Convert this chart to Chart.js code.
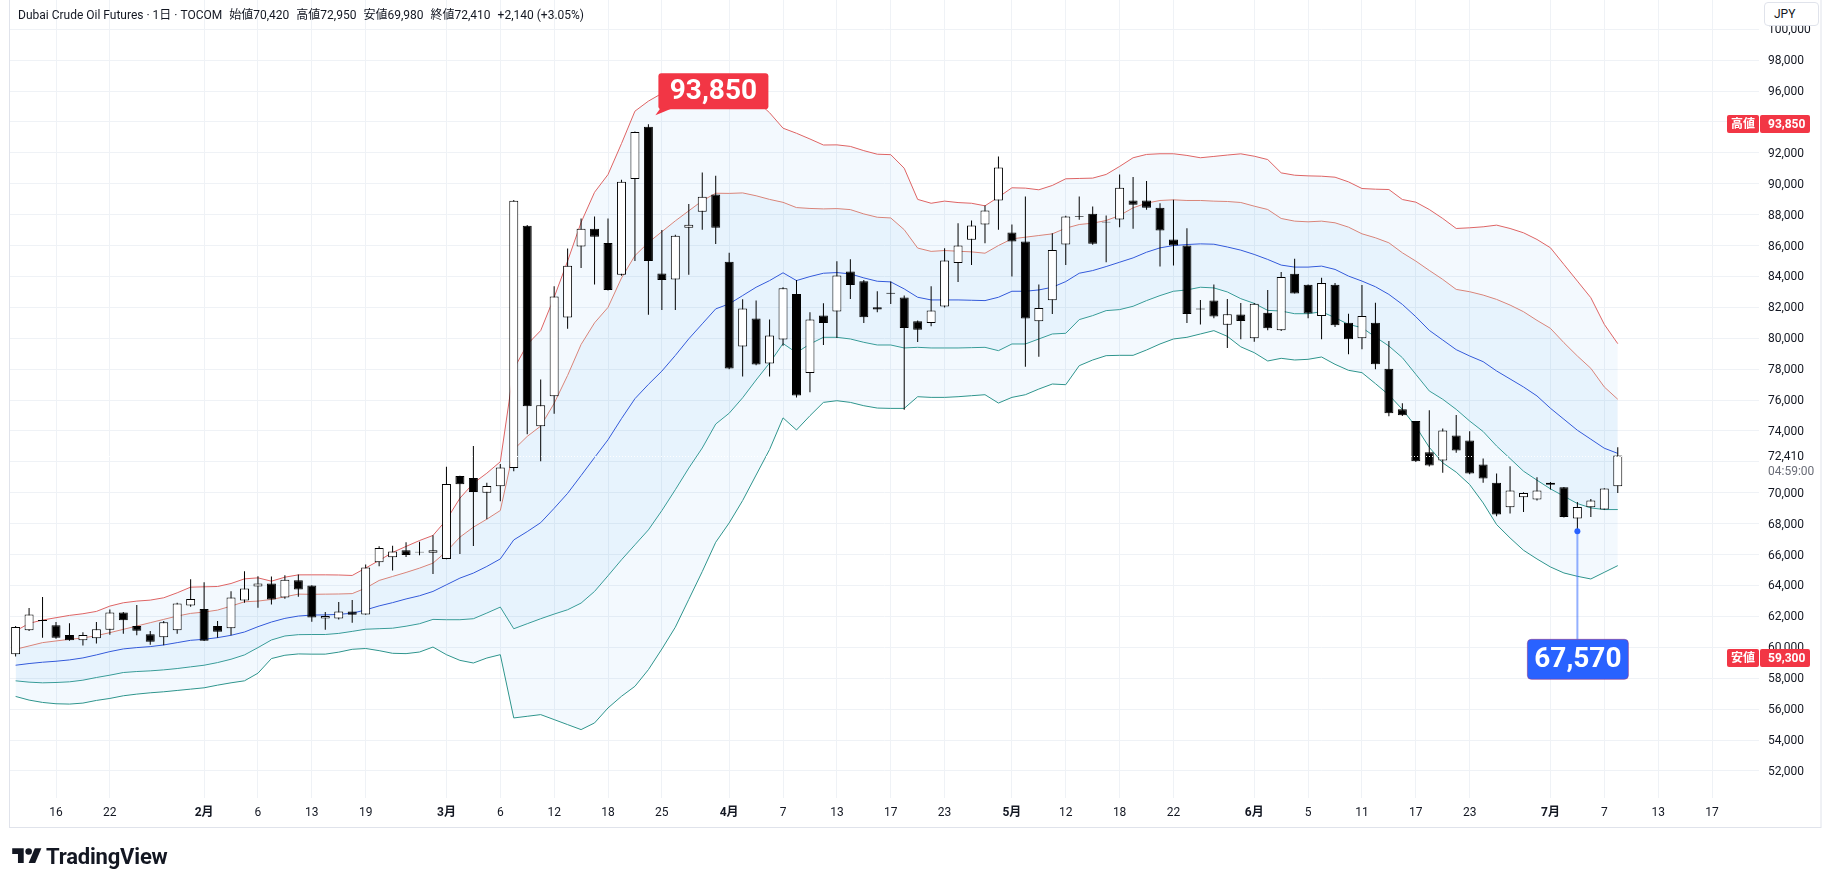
<!DOCTYPE html>
<html>
<head>
<meta charset="utf-8">
<title>Dubai Crude Oil Futures · 1日 · TOCOM</title>
<script src="https://cdn.jsdelivr.net/npm/chart.js@4.4.1/dist/chart.umd.min.js"></script>
<style>
  html, body { margin: 0; padding: 0; background: #fff; }
  body { width: 1827px; height: 887px; position: relative; overflow: hidden;
         font-family: Roboto, "Noto Sans CJK JP", sans-serif; color: #131722; }
  #wrap { position: absolute; left: 0; top: 0; width: 1827px; height: 887px; }
  #title { position: absolute; left: 18px; top: 5px; font-size: 12px; white-space: nowrap; }
  #title span { margin-left: 7px; }
  #jpy { position: absolute; left: 1764px; top: 2px; width: 55px; height: 24px; box-sizing: border-box;
         border: 1px solid #e0e3eb; border-radius: 4px; background: #fff; font-size: 12px;
         line-height: 22px; padding-left: 9px; }
  #logo { position: absolute; left: 12px; top: 844px; height: 24px; display: flex; align-items: center; }
  #logo span { font-size: 22px; font-weight: bold; margin-left: 4px; letter-spacing: -0.2px; }
</style>
</head>
<body>
<div id="wrap"><canvas id="chart"></canvas></div>
<div id="title">Dubai Crude Oil Futures · 1日 · TOCOM<span>始値70,420</span><span>高値72,950</span><span>安値69,980</span><span>終値72,410</span><span>+2,140 (+3.05%)</span></div>
<div id="jpy">JPY</div>
<div id="logo">
  <svg width="30" height="23" viewBox="0 0 36 28"><path d="M14 22H7V11H0V4h14v18z" fill="#131722"/><circle cx="20" cy="8" r="4" fill="#131722"/><path d="M28 22h-8l7.5-18h8L28 22z" fill="#131722"/></svg>
  <span>TradingView</span>
</div>
<script>
// first bar is 3 sessions before the "16" tick (index 0)
const firstIdx = -3;

const open = [
  59549, 61097, 61760, 61420, 60797, 60453, 60582, 61140, 62259, 61377,
  60840, 60646, 61097, 62710, 62474, 61377, 61226, 63033, 63936, 64129,
  63226, 64344, 64000, 61872, 61872, 62323, 62130, 65505, 65828, 66279,
  66190, 66116, 65720, 71084, 70955, 70008, 70428, 71612, 87286, 74304,
  76241, 81344, 85935, 87095, 86167, 84121, 90310, 93700, 84186, 83798,
  87157, 88192, 89310, 84961, 79471, 81279, 78373, 79918, 82860, 77753,
  81468, 81727, 84319, 83693, 82008, 82950, 82634, 81101, 80993, 82051,
  84881, 86371, 87365, 88920, 86846, 86263, 81101, 82462, 86069, 87920,
  88056, 87550, 87689, 88920, 88920, 88445, 86393, 86004, 81930, 82440,
  80870, 81548, 79997, 81656, 80514, 84177, 83466, 81441, 83466, 81009,
  79997, 81009, 78036, 75400, 74650, 72630, 72090, 73710, 73386, 71831,
  70643, 69066, 69714, 69563, 70643, 70362, 68332, 69066, 68915, 70420
];
const high = [
  61377, 62538, 63248, 61635, 61549, 60969, 61635, 62452, 62280, 62732,
  61055, 61700, 62882, 64409, 64215, 61700, 63634, 64925, 64602, 64580,
  64667, 64710, 64022, 62280, 62925, 63054, 65355, 66537, 66580, 66795,
  66827, 67258, 71690, 71100, 73034, 70650, 71870, 88944, 87330, 77339,
  83368, 85810, 87750, 87889, 87760, 90257, 93380, 93850, 87006, 86705,
  88700, 90731, 90516, 85542, 82528, 82442, 81215, 83303, 83779, 81684,
  82267, 84989, 85118, 83779, 83045, 83671, 82764, 81144, 83369, 85831,
  87451, 87624, 88596, 91771, 87365, 89179, 83477, 86803, 87926, 89179,
  88531, 87948, 90605, 90432, 90173, 88747, 88963, 87127, 82483, 83477,
  82540, 82281, 82281, 83121, 84285, 85147, 83480, 83919, 83574, 81591,
  83445, 82302, 79824, 75800, 74650, 75350, 74164, 75028, 73991, 72220,
  71248, 71723, 70038, 71010, 70700, 70380, 69412, 69606, 70300, 72950
];
const low = [
  59399, 61055, 60625, 60560, 60431, 60109, 60238, 60818, 60883, 60775,
  60173, 60130, 60883, 62624, 60400, 60625, 60775, 62882, 62560, 62775,
  63140, 63269, 61657, 61140, 61807, 61592, 62108, 65247, 64968, 65849,
  65965, 64737, 65700, 66040, 66560, 68295, 69460, 71397, 73787, 72043,
  75122, 80612, 84552, 83476, 83088, 84050, 85004, 81516, 81839, 81839,
  84121, 87020, 86106, 78000, 77533, 78250, 77533, 79514, 76176, 76500,
  79567, 80021, 82548, 80993, 81684, 82224, 75377, 79762, 80777, 82000,
  83650, 84751, 86155, 87019, 83995, 78163, 78811, 81576, 84751, 87667,
  86050, 84924, 87192, 87084, 88315, 84643, 84708, 80993, 80885, 81295,
  79380, 79932, 79781, 80514, 80471, 82900, 81290, 79932, 80729, 78962,
  79285, 77993, 74950, 74976, 72000, 71700, 71291, 72587, 71200, 70643,
  68483, 68656, 68764, 69500, 70211, 68400, 67570, 68440, 68900, 69980
];
const close = [
  61313, 62130, 61700, 60625, 60453, 60797, 61162, 62259, 61743, 61076,
  60367, 61614, 62839, 63119, 60431, 61012, 63226, 63807, 64129, 63097,
  64366, 63742, 61936, 62022, 62323, 62108, 65161, 66430, 66193, 65978,
  66130, 66288, 70570, 70557, 70050, 70438, 71640, 88901, 75595, 75660,
  82700, 84703, 87095, 86576, 83131, 90128, 93355, 85004, 83777, 86645,
  87351, 89161, 87150, 78050, 81925, 78308, 80181, 83240, 76290, 81209,
  80993, 84060, 83455, 81360, 81857, 82880, 80669, 80561, 81792, 85032,
  86004, 87300, 88272, 91058, 86263, 81274, 81965, 85723, 87883, 87860,
  86112, 87490, 89741, 88639, 88445, 86976, 86004, 81576, 81870, 81403,
  81560, 81117, 82238, 80643, 83962, 82906, 81613, 83574, 80837, 79932,
  81441, 78316, 75150, 75020, 72035, 71765, 74034, 72738, 71248, 70924,
  68591, 70146, 69995, 70146, 70514, 68440, 69088, 69498, 70276, 72410
];

// band lines
const upper2 = [
  61055, 61549, 61764, 61915, 62065, 62173, 62323, 62667, 62882, 62990,
  63054, 63205, 63527, 63893, 63914, 63936, 64129, 64430, 64495, 64280,
  64538, 64688, 64690, 64690, 64680, 64650, 65130, 65620, 66140, 66530,
  66910, 67240, 68250, 69650, 70620, 71270, 72010, 78000, 79600, 80500,
  82650, 85000, 87500, 89450, 90600, 92600, 94700, 95350, 95850, 96300,
  96600, 96800, 96800, 96400, 96000, 95400, 94600, 93600, 93270, 92900,
  92510, 92520, 92420, 92145, 91915, 91885, 91010, 88990, 88740, 88880,
  88785, 88740, 88574, 89136, 89741, 89719, 89611, 89892, 90324, 90346,
  90367, 90605, 91123, 91685, 91901, 91944, 91944, 91836, 91685, 91771,
  91860, 91940, 91784, 91569, 90707, 90556, 90513, 90492, 90427, 90125,
  89694, 89651, 89630, 88983, 88811, 88337, 87755, 87108, 87151, 87216,
  87324, 87108, 86828, 86397, 85859, 84781, 83703, 82626, 80902, 79652
];
const upper1 = [
  59872, 60087, 60302, 60410, 60517, 60603, 60754, 60947, 61162, 61377,
  61592, 61807, 62022, 62194, 62280, 62409, 62667, 62946, 62990, 63097,
  63269, 63441, 63430, 63440, 63450, 63475, 63832, 64327, 64586, 64845,
  65125, 65448, 66202, 67129, 67775, 68293, 68853, 72800, 73650, 74320,
  75790, 77600, 79600, 81000, 82000, 83900, 85350, 86200, 86900, 87600,
  88250, 88900, 89390, 89378, 89410, 89225, 88990, 88800, 88460, 88405,
  88375, 88395, 88330, 88050, 87835, 87790, 87030, 85840, 85625, 85680,
  85637, 85594, 85507, 86004, 86436, 86544, 86652, 86760, 87127, 87365,
  87451, 87624, 87948, 88445, 88747, 88920, 88963, 88920, 88920, 88877,
  88855, 88790, 88552, 88337, 87755, 87583, 87539, 87583, 87475, 87194,
  86763, 86505, 86181, 85535, 84996, 84393, 83811, 83165, 83014, 82798,
  82518, 82152, 81721, 81160, 80643, 79716, 78854, 78057, 76850, 76053
];
const basis = [
  58840, 58948, 59034, 59098, 59184, 59313, 59507, 59722, 59894, 59980,
  60044, 60152, 60302, 60453, 60517, 60625, 60775, 60990, 61334, 61635,
  61872, 62022, 62087, 62097, 62130, 62205, 62420, 62680, 62890, 63130,
  63336, 63616, 64047, 64478, 64802, 65233, 65720, 66950, 67487, 68068,
  68995, 69965, 71117, 72280, 73433, 74799, 76091, 77016, 77878, 78890,
  79966, 80935, 81904, 82227, 82765, 83303, 83734, 84240, 83736, 83995,
  84211, 84254, 84168, 83909, 83693, 83650, 83196, 82656, 82483, 82483,
  82483, 82462, 82440, 82656, 83045, 83045, 83131, 83304, 83671, 84211,
  84384, 84643, 84924, 85205, 85572, 85853, 86004, 86069, 86112, 86090,
  85910, 85705, 85427, 85104, 84738, 84608, 84608, 84673, 84458, 84027,
  83703, 83337, 82841, 82195, 81397, 80514, 79889, 79264, 78855, 78488,
  77885, 77368, 76850, 76268, 75471, 74760, 74049, 73467, 72885, 72550
];
const lower1 = [
  57830, 57744, 57701, 57722, 57765, 57873, 58045, 58195, 58367, 58432,
  58475, 58539, 58625, 58733, 58840, 59012, 59227, 59507, 59979, 60474,
  60732, 60818, 60828, 60828, 60900, 61030, 61170, 61204, 61236, 61365,
  61526, 61806, 61785, 61785, 61849, 62216, 62603, 61200, 61526, 61849,
  62151, 62431, 62862, 63616, 64629, 65663, 66633, 67600, 68850, 70200,
  71600, 72900, 74450, 75150, 76150, 77300, 78400, 79660, 79070, 79632,
  80064, 80064, 79956, 79740, 79567, 79567, 79373, 79416, 79373, 79373,
  79373, 79394, 79416, 79200, 79632, 79632, 79956, 80280, 80323, 81209,
  81468, 81792, 81857, 82073, 82440, 82764, 83045, 83131, 83304, 83261,
  83000, 82565, 82259, 81807, 81764, 81591, 81591, 81721, 81333, 80902,
  80687, 80083, 79501, 78747, 77669, 76592, 76053, 75400, 74645, 73966,
  73027, 72218, 71399, 70816, 70254, 69779, 69304, 69023, 68915, 68915
];
const lower2 = [
  56819, 56583, 56432, 56346, 56325, 56389, 56561, 56690, 56862, 56970,
  57055, 57120, 57206, 57292, 57378, 57550, 57701, 57830, 58324, 59270,
  59485, 59571, 59557, 59557, 59686, 59870, 59923, 59783, 59611, 59590,
  59694, 60017, 59522, 59155, 58983, 59306, 59522, 55427, 55535, 55643,
  55320, 54996, 54673, 55104, 56074, 56828, 57475, 58552, 59888, 61300,
  63100, 64900, 66800, 68050, 69500, 71150, 72800, 74850, 74065, 74988,
  75852, 75960, 75852, 75636, 75485, 75463, 75463, 76219, 76176, 76176,
  76219, 76284, 76349, 75809, 76176, 76349, 76716, 77040, 76997, 78228,
  78595, 78876, 78898, 78898, 79243, 79632, 79956, 80064, 80280, 80496,
  80128, 79448, 79070, 78531, 78704, 78596, 78639, 78790, 78316, 77928,
  77777, 77066, 76333, 75400, 74290, 72940, 71939, 71334, 70535, 69347,
  67943, 67079, 66280, 65718, 65200, 64811, 64595, 64422, 64854, 65286
];

// date axis: bar index -> label
const tickPos  = [0, 4, 11, 15, 19, 23, 29, 33, 37, 41, 45, 50, 54, 58, 62, 66, 71, 75, 79, 83, 89, 93, 97, 101, 105, 111, 115, 119, 123];
const tickText = ['16', '22', '2月', '6', '13', '19', '3月', '6', '12', '18', '25', '4月', '7', '13', '17', '23', '5月', '12', '18', '22', '6月', '5', '11', '17', '23', '7月', '7', '13', '17'];
const priceTicks = [];
for (let v = 52000; v <= 100000; v += 2000) priceTicks.push(v);

const highMark = { idx: 44, value: 93850 };
const lowMark = { idx: 113, value: 67570 };
const rangeHigh = 93850, rangeLow = 59300;
const lastPrice = 72410;

const xs = open.map((_, k) => k + firstIdx);
const pts = arr => arr.map((v, k) => ({ x: xs[k], y: v }));
const isUp = k => close[k] >= open[k];

const fmt = v => v.toLocaleString('en-US');
const FONT = 'Roboto, "Noto Sans CJK JP", sans-serif';

function roundRect(ctx, x, y, w, h, r) {
  ctx.beginPath();
  ctx.moveTo(x + r, y);
  ctx.arcTo(x + w, y, x + w, y + h, r);
  ctx.arcTo(x + w, y + h, x, y + h, r);
  ctx.arcTo(x, y + h, x, y, r);
  ctx.arcTo(x, y, x + w, y, r);
  ctx.closePath();
}

const marks = {
  id: 'marks',
  afterDatasetsDraw(chart) {
    const { ctx, chartArea: a, scales: { x, y } } = chart;
    ctx.save();

    // last price dotted line
    const ly = Math.round(y.getPixelForValue(lastPrice)) + 0.5;
    ctx.strokeStyle = 'rgba(255,255,255,0.95)';
    ctx.lineWidth = 1;
    ctx.setLineDash([1, 2]);
    ctx.beginPath(); ctx.moveTo(a.left, ly); ctx.lineTo(a.right, ly); ctx.stroke();
    ctx.setLineDash([]);

    // high callout
    const hx = x.getPixelForValue(highMark.idx), hy = y.getPixelForValue(highMark.value);
    const bx = hx + 10, by = hy - 51, bw = 110, bh = 36;
    ctx.fillStyle = '#f23645';
    roundRect(ctx, bx, by, bw, bh, 3); ctx.fill();
    ctx.beginPath(); ctx.moveTo(bx + 2, by + bh - 1); ctx.lineTo(bx + 14, by + bh - 1); ctx.lineTo(hx + 7, hy - 9); ctx.closePath(); ctx.fill();
    ctx.fillStyle = '#fff';
    ctx.font = 'bold 28px ' + FONT;
    ctx.textAlign = 'center'; ctx.textBaseline = 'middle';
    ctx.fillText(fmt(highMark.value), bx + bw / 2, by + bh / 2 + 1);

    // low callout
    const qx = x.getPixelForValue(lowMark.idx), qy = y.getPixelForValue(lowMark.value);
    const top = qy + 109;
    ctx.strokeStyle = 'rgba(41,98,255,0.5)';
    ctx.lineWidth = 2;
    ctx.beginPath(); ctx.moveTo(qx, qy + 1); ctx.lineTo(qx, top); ctx.stroke();
    ctx.fillStyle = '#2962ff';
    ctx.beginPath(); ctx.arc(qx, qy + 1, 3, 0, Math.PI * 2); ctx.fill();
    roundRect(ctx, qx - 50, top, 101, 40, 4); ctx.fill();
    ctx.strokeStyle = 'rgba(150,50,130,0.55)'; ctx.lineWidth = 1; ctx.stroke();
    ctx.fillStyle = '#fff';
    ctx.fillText(fmt(lowMark.value), qx + 0.5, top + 21);
    ctx.restore();
  },
  afterDraw(chart) {
    const { ctx, chartArea: a, scales: { y } } = chart;
    ctx.save();
    ctx.font = 'bold 12px ' + FONT;
    ctx.textBaseline = 'middle';
    [['高値', rangeHigh], ['安値', rangeLow]].forEach(([tag, v]) => {
      const py = Math.round(y.getPixelForValue(v));
      ctx.fillStyle = '#f23645';
      roundRect(ctx, 1727, py - 9, 32, 18, 2); ctx.fill();
      roundRect(ctx, 1760, py - 9, 50, 18, 2); ctx.fill();
      ctx.fillStyle = '#fff';
      ctx.textAlign = 'center';
      ctx.fillText(tag, 1743, py + 1);
      ctx.textAlign = 'left';
      ctx.fillText(fmt(v), 1768, py + 1);
    });
    const ly = y.getPixelForValue(lastPrice);
    ctx.textAlign = 'left';
    ctx.font = '12px ' + FONT;
    ctx.fillStyle = '#131722';
    ctx.fillText(fmt(lastPrice), 1768, ly + 1);
    ctx.fillStyle = '#6a6d78';
    ctx.fillText('04:59:00', 1768, ly + 16);
    // pane frame
    ctx.strokeStyle = '#e0e3eb';
    ctx.lineWidth = 1;
    ctx.strokeRect(a.left - 0.5, -0.5, 1821 - a.left + 0.5, 828);
    ctx.restore();
  }
};

const lineDs = (data, color, fill, bg) => ({
  type: 'line', data: pts(data), borderColor: color, borderWidth: 1,
  pointRadius: 0, tension: 0, fill: fill, backgroundColor: bg || 'transparent', order: 3
});

new Chart(document.getElementById('chart'), {
  type: 'bar',
  data: {
    datasets: [
      lineDs(upper2, '#de6464', '+4', 'rgba(33,150,243,0.055)'),
      lineDs(upper1, '#e38372', '+2', 'rgba(33,150,243,0.055)'),
      lineDs(basis, '#3553d8', false),
      lineDs(lower1, '#3a9d91', false),
      lineDs(lower2, '#2f958a', false),
      {
        type: 'bar', label: 'wick', grouped: false, order: 2,
        data: xs.map((v, k) => ({ x: v, y: [low[k], high[k]] })),
        backgroundColor: '#000', barThickness: 1, borderWidth: 0, inflateAmount: 0
      },
      {
        type: 'bar', label: 'body', grouped: false, order: 1,
        data: xs.map((v, k) => ({ x: v, y: [open[k], close[k]] })),
        backgroundColor: xs.map((_, k) => isUp(k) ? '#ffffff' : '#000000'),
        borderColor: '#000', borderWidth: 1, borderSkipped: false,
        barThickness: 9, inflateAmount: 0
      }
    ]
  },
  options: {
    responsive: true,
    maintainAspectRatio: false,
    animation: false,
    events: [],
    layout: { padding: { left: 10, right: 6, top: 0, bottom: 60 } },
    plugins: { legend: { display: false }, tooltip: { enabled: false } },
    scales: {
      x: {
        type: 'linear', min: -3.417, max: 126.49, offset: false,
        afterBuildTicks: s => { s.ticks = tickPos.map(v => ({ value: v })); },
        afterFit: s => { s.height = 29; s.paddingLeft = 0; s.paddingRight = 0; },
        grid: { color: '#eff2f6', drawTicks: false, offset: false },
        border: { display: false },
        ticks: {
          autoSkip: false, maxRotation: 0, padding: 8, color: '#131722',
          callback: v => tickText[tickPos.indexOf(v)] ?? '',
          font: c => ({ family: FONT, size: 12, weight: /月/.test(tickText[tickPos.indexOf(c.tick && c.tick.value)] || '') ? 'bold' : 'normal' })
        }
      },
      y: {
        position: 'right', min: 50246, max: 101896,
        afterBuildTicks: s => { s.ticks = priceTicks.map(v => ({ value: v })); },
        afterFit: s => { s.width = 62; s.paddingTop = 0; s.paddingBottom = 0; },
        grid: { color: '#eff2f6', drawTicks: false },
        border: { display: false },
        ticks: {
          padding: 9, labelOffset: 1, color: '#131722', font: { family: FONT, size: 12 },
          callback: v => (v === 72000 || v === 94000) ? '' : fmt(v)
        }
      }
    }
  },
  plugins: [marks]
});
</script>
</body>
</html>
